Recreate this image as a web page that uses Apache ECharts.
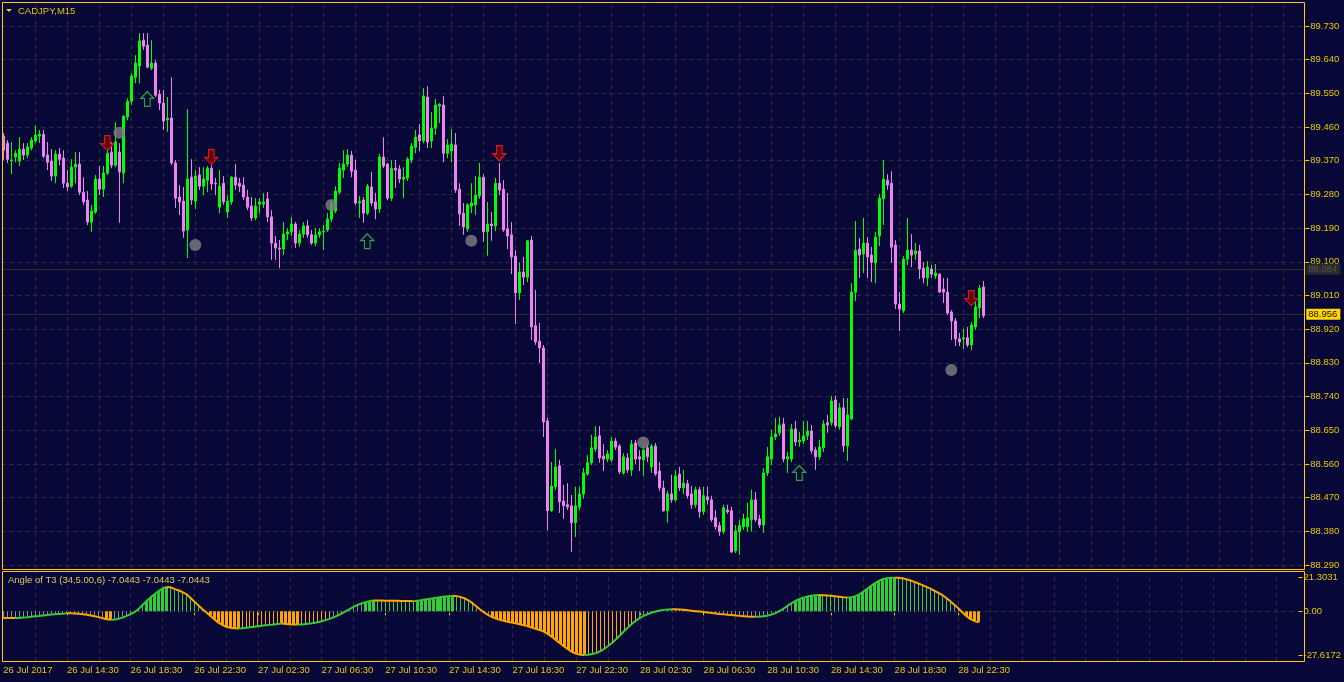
<!DOCTYPE html>
<html><head><meta charset="utf-8">
<script src="https://cdn.jsdelivr.net/npm/echarts@6/dist/echarts.min.js"></script>
<style>html,body{margin:0;padding:0;background:#070838;}#chart{width:1344px;height:682px;}</style>
</head><body><div id="chart"></div>
<script>
// ---------- DATA ----------
const symbolName = 'CADJPY,M15';
const indicatorTitle = 'Angle of T3 (34,5.00,6) -7.0443 -7.0443 -7.0443';
const tickLabels = ['26 Jul 2017','26 Jul 14:30','26 Jul 18:30','26 Jul 22:30','27 Jul 02:30','27 Jul 06:30','27 Jul 10:30','27 Jul 14:30','27 Jul 18:30','27 Jul 22:30','28 Jul 02:30','28 Jul 06:30','28 Jul 10:30','28 Jul 14:30','28 Jul 18:30','28 Jul 22:30'];
const priceTicks = [88.29,88.38,88.47,88.56,88.65,88.74,88.83,88.92,89.01,89.10,89.19,89.28,89.37,89.46,89.55,89.64,89.73];
const angleTicks = [21.3031, 0, -27.6172];
const levelLine = 89.084;
const bidPrice = 88.956;

const openPrices = [
89.436,89.417,89.370,89.380,89.369,89.401,89.385,89.404,89.423,89.436,
89.441,89.385,89.369,89.329,89.388,89.377,89.310,89.302,89.353,89.361,
89.286,89.265,89.206,89.233,89.321,89.294,89.337,89.393,89.358,89.393,
89.337,89.487,89.529,89.593,89.623,89.692,89.679,89.617,89.631,89.548,
89.524,89.479,89.484,89.364,89.273,89.262,89.185,89.326,89.262,89.332,
89.302,89.318,89.350,89.310,89.246,89.310,89.233,89.260,89.326,89.310,
89.305,89.273,89.249,89.217,89.254,89.254,89.268,89.220,89.150,89.137,
89.134,89.174,89.180,89.201,89.150,89.174,89.196,89.172,89.150,89.172,
89.180,89.185,89.214,89.236,89.286,89.345,89.361,89.385,89.345,89.257,
89.265,89.230,89.300,89.260,89.241,89.380,89.361,89.270,89.350,89.348,
89.321,89.324,89.372,89.406,89.439,89.423,89.540,89.423,89.457,89.516,
89.519,89.390,89.396,89.412,89.294,89.230,89.188,89.249,89.252,89.276,
89.326,89.180,89.201,89.196,89.310,89.294,89.188,89.172,89.115,89.017,
89.073,89.059,89.158,88.929,88.888,88.870,88.675,88.435,88.499,88.555,
88.461,88.451,88.448,88.403,88.445,88.480,88.533,88.563,88.600,88.635,
88.581,88.573,88.571,88.621,88.608,88.536,88.576,88.544,88.616,88.579,
88.571,88.603,88.552,88.608,88.541,88.496,88.435,88.480,88.464,88.533,
88.496,88.507,88.480,88.451,88.491,88.432,88.472,88.464,88.416,88.395,
88.379,88.437,88.435,88.328,88.379,88.392,88.392,88.411,88.464,88.413,
88.397,88.536,88.573,88.632,88.643,88.667,88.573,88.573,88.653,88.619,
88.621,88.635,88.648,88.597,88.579,88.603,88.670,88.670,88.731,88.659,
88.710,88.608,88.680,89.019,89.134,89.121,89.150,89.118,89.097,89.169,
89.268,89.318,89.310,89.145,88.987,88.969,89.107,89.131,89.121,89.129,
89.083,89.057,89.081,89.062,89.067,89.027,89.019,88.966,88.942,88.894,
88.894,88.897,88.878,88.926,88.977,89.033];
const closePrices = [
89.398,89.374,89.372,89.390,89.401,89.385,89.407,89.425,89.439,89.441,
89.382,89.366,89.329,89.388,89.374,89.310,89.300,89.353,89.361,89.286,
89.260,89.206,89.236,89.321,89.294,89.337,89.390,89.358,89.420,89.340,
89.489,89.529,89.596,89.631,89.690,89.676,89.620,89.631,89.545,89.524,
89.476,89.484,89.364,89.270,89.260,89.182,89.321,89.265,89.329,89.302,
89.321,89.350,89.308,89.308,89.302,89.260,89.262,89.326,89.305,89.302,
89.273,89.246,89.217,89.249,89.260,89.260,89.220,89.150,89.137,89.134,
89.174,89.180,89.201,89.150,89.174,89.196,89.172,89.150,89.172,89.180,
89.182,89.214,89.257,89.289,89.350,89.361,89.385,89.342,89.257,89.262,
89.230,89.302,89.257,89.241,89.380,89.356,89.270,89.350,89.345,89.321,
89.326,89.374,89.409,89.433,89.423,89.543,89.420,89.457,89.519,89.521,
89.390,89.412,89.415,89.292,89.228,89.193,89.252,89.257,89.278,89.326,
89.180,89.201,89.196,89.310,89.292,89.185,89.169,89.113,89.017,89.073,
89.059,89.156,88.926,88.886,88.870,88.672,88.435,88.501,88.552,88.459,
88.448,88.445,88.403,88.448,88.480,88.536,88.563,88.603,88.632,88.576,
88.573,88.587,88.621,88.605,88.539,88.579,88.544,88.613,88.573,88.573,
88.597,88.579,88.608,88.533,88.496,88.435,88.480,88.464,88.528,88.496,
88.509,88.475,88.451,88.491,88.432,88.475,88.464,88.411,88.392,88.379,
88.443,88.432,88.325,88.381,88.395,88.413,88.416,88.464,88.411,88.397,
88.536,88.579,88.632,88.640,88.664,88.573,88.579,88.653,88.619,88.624,
88.635,88.648,88.595,88.579,88.605,88.667,88.664,88.728,88.662,88.710,
88.608,88.691,89.019,89.131,89.118,89.150,89.113,89.099,89.166,89.270,
89.321,89.305,89.139,88.987,88.974,89.107,89.131,89.118,89.129,89.081,
89.057,89.086,89.067,89.070,89.019,89.019,88.963,88.942,88.894,88.886,
88.897,88.878,88.931,88.979,89.030,88.956];
const lowPrices = [
89.372,89.364,89.334,89.366,89.356,89.372,89.377,89.398,89.417,89.417,
89.377,89.345,89.316,89.310,89.358,89.297,89.289,89.297,89.310,89.278,
89.252,89.198,89.180,89.228,89.278,89.273,89.332,89.350,89.353,89.204,
89.310,89.478,89.519,89.577,89.577,89.666,89.617,89.612,89.540,89.505,
89.452,89.447,89.358,89.244,89.225,89.164,89.110,89.252,89.241,89.292,
89.278,89.286,89.292,89.278,89.230,89.252,89.217,89.252,89.292,89.286,
89.265,89.238,89.209,89.211,89.230,89.244,89.206,89.105,89.105,89.083,
89.118,89.158,89.169,89.137,89.140,89.164,89.164,89.145,89.142,89.164,
89.131,89.180,89.206,89.230,89.281,89.324,89.353,89.326,89.252,89.217,
89.204,89.225,89.249,89.214,89.230,89.350,89.265,89.262,89.297,89.310,
89.270,89.316,89.364,89.390,89.396,89.417,89.404,89.404,89.439,89.471,
89.366,89.377,89.366,89.284,89.196,89.172,89.180,89.230,89.225,89.268,
89.153,89.116,89.156,89.182,89.278,89.180,89.134,89.067,88.934,88.998,
89.038,89.046,88.891,88.878,88.830,88.632,88.383,88.432,88.491,88.429,
88.413,88.437,88.325,88.365,88.437,88.467,88.528,88.557,88.592,88.563,
88.541,88.565,88.565,88.597,88.533,88.531,88.536,88.528,88.560,88.541,
88.528,88.565,88.536,88.528,88.488,88.432,88.403,88.456,88.459,88.488,
88.480,88.467,88.440,88.443,88.416,88.424,88.451,88.405,88.384,88.368,
88.373,88.427,88.322,88.322,88.317,88.384,88.379,88.379,88.405,88.389,
88.376,88.528,88.557,88.624,88.635,88.565,88.536,88.565,88.608,88.606,
88.613,88.624,88.587,88.544,88.571,88.592,88.643,88.662,88.656,88.651,
88.592,88.568,88.677,88.995,89.057,89.070,89.057,89.046,89.043,89.142,
89.198,89.292,89.097,88.974,88.915,88.963,89.091,89.086,89.105,89.054,
89.043,89.035,89.057,89.054,89.017,88.990,88.958,88.891,88.875,88.875,
88.867,88.872,88.864,88.918,88.950,88.950];
const highPrices = [
89.444,89.425,89.420,89.398,89.433,89.417,89.417,89.433,89.465,89.452,
89.452,89.420,89.401,89.398,89.404,89.398,89.345,89.374,89.393,89.393,
89.326,89.289,89.252,89.332,89.356,89.356,89.406,89.420,89.473,89.417,
89.492,89.537,89.604,89.652,89.711,89.711,89.711,89.692,89.639,89.559,
89.559,89.540,89.593,89.372,89.305,89.300,89.508,89.374,89.345,89.353,
89.353,89.356,89.358,89.324,89.345,89.329,89.278,89.329,89.361,89.324,
89.326,89.292,89.273,89.270,89.270,89.284,89.286,89.238,89.169,89.158,
89.206,89.190,89.220,89.206,89.185,89.206,89.211,89.185,89.190,89.190,
89.198,89.230,89.265,89.302,89.364,89.398,89.401,89.396,89.372,89.276,
89.273,89.308,89.340,89.284,89.388,89.433,89.364,89.372,89.372,89.358,
89.353,89.380,89.417,89.452,89.468,89.564,89.569,89.500,89.535,89.524,
89.543,89.428,89.455,89.444,89.310,89.257,89.257,89.310,89.329,89.364,
89.334,89.260,89.233,89.324,89.364,89.318,89.284,89.206,89.131,89.099,
89.113,89.158,89.169,89.025,88.937,88.878,88.683,88.565,88.600,88.571,
88.504,88.509,88.477,88.499,88.499,88.549,88.584,88.638,88.661,88.661,
88.613,88.597,88.632,88.629,88.613,88.589,88.589,88.624,88.624,88.597,
88.608,88.613,88.613,88.616,88.565,88.515,88.488,88.531,88.544,88.552,
88.544,88.517,88.501,88.499,88.499,88.499,88.499,88.475,88.437,88.405,
88.451,88.451,88.445,88.397,88.411,88.427,88.456,88.491,88.485,88.424,
88.549,88.605,88.651,88.683,88.686,88.683,88.592,88.667,88.675,88.646,
88.675,88.675,88.664,88.605,88.624,88.677,88.691,88.742,88.742,88.723,
88.736,88.736,89.043,89.209,89.164,89.217,89.166,89.140,89.180,89.281,
89.372,89.334,89.342,89.158,89.019,89.115,89.217,89.174,89.150,89.145,
89.099,89.102,89.091,89.094,89.070,89.057,89.057,88.971,88.950,88.910,
88.921,88.926,88.939,88.993,89.038,89.049];

// Angle of T3 indicator, one value per bar
const angleT3 = [
-4.3,-4.3,-4.3,-4.3,-4.2,
-4.0,-3.8,-3.5,-3.2,-3.0,-2.7,-2.4,-2.1,-1.9,-1.7,-1.5,-1.3,
-1.3,-1.4,-1.6,-1.9,-2.2,-2.6,-3.1,-3.7,-4.4,-5.0,-5.4,
-5.2,-4.7,-4.0,-2.9,-1.8,-0.5,1.5,4.0,6.5,8.8,10.8,12.8,14.4,15.4,
15.2,14.2,13.3,12.2,10.9,8.6,6.2,3.8,1.5,-0.6,-2.8,-5.0,-7.0,-8.6,-9.8,-10.4,-10.8,-10.9,
-10.7,-10.4,-10.1,-9.8,-9.5,-9.2,-8.9,-8.6,-8.3,-8.0,-7.8,
-8.0,-8.2,-8.3,-8.4,
-8.3,-8.1,-7.8,-7.4,-6.9,-6.3,-5.6,-4.8,-3.8,-2.7,-1.4,-0.1,1.4,2.8,4.0,5.0,5.8,6.4,6.8,
6.8,6.8,6.7,6.7,6.6,6.6,6.5,6.5,6.5,6.4,
6.6,7.0,7.4,7.8,8.2,8.6,9.0,9.3,9.6,9.8,
9.6,9.0,8.1,6.8,5.0,2.9,0.8,-1.0,-2.6,-3.8,-4.8,
-5.6,-6.2,-6.8,-7.3,-7.8,-8.3,-8.9,-9.6,-10.4,-11.3,-12.1,-13.0,-14.6,-16.4,-18.4,-20.4,-22.4,-24.2,-25.8,-26.9,-27.5,-27.6172,
-27.5,-27.1,-26.4,-25.3,-23.8,-22.0,-20.0,-17.7,-15.2,-12.6,-10.2,-7.9,-5.9,-4.2,-2.8,-1.7,-0.8,-0.1,0.5,0.9,1.2,1.3,
1.3,1.2,1.0,0.7,0.4,0.1,-0.2,-0.5,-0.8,-1.1,-1.4,-1.7,-1.9,-2.2,-2.4,-2.7,-2.9,-3.1,-3.3,-3.4,-3.5,
-3.4,-3.2,-2.8,-2.1,-1.2,0.1,1.6,3.3,5.0,6.5,7.7,8.6,9.3,9.8,10.1,10.3,
10.2,10.0,9.8,9.5,9.2,8.9,8.7,
8.8,9.4,10.6,12.2,14.0,15.9,17.7,19.2,20.3,20.9,21.2,21.3031,
21.2,20.9,20.3,19.5,18.6,17.6,16.6,15.5,14.3,13.0,11.7,10.3,8.4,6.3,4.1,1.9,-0.6,-3.0,-4.8,-6.1,-7.0443];
// histogram buffer membership (runs): n neutral, G strong up, g weak up, O strong down, o weak down
const histRuns = [['n',26],['O',2],['n',8],['G',6],['g',9],['n',1],['O',8],['o',10],['O',5],['o',8],['n',8],['G',3],['g',10],['G',10],['g',5],['n',4],['O',24],['o',13],['n',39],['G',7],['g',7],['G',12],['g',14],['n',3],['O',4]];

// signal markers: [bar index, price]
const downArrows = [[26,89.417],[52,89.380],[124,89.390],[242,89.003]];
const upArrows = [[36,89.535],[91,89.155],[199,88.536]];
const dots = [[29,89.445],[48,89.145],[82,89.252],[117,89.156],[160,88.617],[237,88.811]];

// ---------- BUILD ----------
const shiftBars = 80;
const N = openPrices.length + shiftBars;
const barTimes = [];
const t0 = Date.UTC(2017,6,26,10,30);
const MON = ['Jan','Feb','Mar','Apr','May','Jun','Jul','Aug','Sep','Oct','Nov','Dec'];
for (let i = 0; i < N; i++) {
  const d = new Date(t0 + i*15*60000);
  barTimes.push(d.getUTCDate()+' '+MON[d.getUTCMonth()]+' '+String(d.getUTCHours()).padStart(2,'0')+':'+String(d.getUTCMinutes()).padStart(2,'0'));
}
const candleData = openPrices.map((o,i)=>[o, closePrices[i], lowPrices[i], highPrices[i]]);
const states = [];
histRuns.forEach(([s,c])=>{ for (let k=0;k<c;k++) states.push(s); });
const histData = angleT3.map((v,i)=>[i,v]);
const nA = angleT3.length;
const upLine = angleT3.map((v,i)=>((i>0&&v>angleT3[i-1])||(i<nA-1&&angleT3[i+1]>v))?v:null);
const dnLine = angleT3.map((v,i)=>((i>0&&v<=angleT3[i-1])||(i<nA-1&&angleT3[i+1]<=v))?v:null);
const vGrid = [];
for (let k = 8; k < N; k += 8) vGrid.push({xAxis: k});

const FONT = '"Liberation Sans", Arial, sans-serif';
const FS = 9.5;
const GOLD = '#FFCC00';
const TXT = '#E8C800';
const GRIDC = '#2e2e36';
const BG = '#070838';
const showTick = (idx)=> idx % 16 === 0 && idx/16 < tickLabels.length;

const chart = echarts.init(document.getElementById('chart'), null, {renderer:'canvas'});
const option = {
  backgroundColor: BG,
  animation: false,
  grid: [
    {left: 1.3, right: 38.7, top: 3, height: 566},
    {left: 1.3, right: 38.7, top: 572, height: 89}
  ],
  xAxis: [
    {type:'category', gridIndex:0, data: barTimes, boundaryGap:true, show:false},
    {type:'category', gridIndex:1, data: barTimes, boundaryGap:true,
     axisLine:{show:false},
     axisTick:{show:true, alignWithLabel:true, interval: showTick, length:4, lineStyle:{color:GOLD}},
     axisLabel:{interval: showTick, formatter:(v,idx)=>tickLabels[idx/16]||'', align:'left', color:TXT, fontSize:FS, fontFamily:FONT, margin:4},
     splitLine:{show:false}}
  ],
  yAxis: [
    {type:'value', gridIndex:0, position:'right', min:88.2793, max:89.7914, scale:true,
     axisLine:{show:false},
     axisTick:{show:true, length:4, customValues: priceTicks, lineStyle:{color:GOLD}},
     axisLabel:{customValues: priceTicks, formatter:v=>v.toFixed(3), color:TXT, fontSize:FS, fontFamily:FONT, margin:5},
     splitLine:{show:false}},
    {type:'value', gridIndex:1, position:'right', min:-31.46, max:24.87, scale:true,
     axisLine:{show:false},
     axisTick:{show:true, length:4, customValues: angleTicks, lineStyle:{color:GOLD}},
     axisLabel:{customValues: angleTicks, formatter:v=> v===0 ? '0.00' : v.toFixed(4), color:TXT, fontSize:FS, fontFamily:FONT, margin:5},
     splitLine:{show:false}}
  ],
  series: [
    {type:'line', xAxisIndex:0, yAxisIndex:0, data:[], silent:true,
     markLine:{z:1, silent:true, symbol:['none','none'], label:{show:false}, animation:false,
       lineStyle:{color:GRIDC, type:[4,4], width:1},
       data: vGrid.concat(priceTicks.map(p=>({yAxis:p})))}},
    {type:'line', xAxisIndex:1, yAxisIndex:1, data:[], silent:true,
     markLine:{z:1, silent:true, symbol:['none','none'], label:{show:false}, animation:false,
       lineStyle:{color:GRIDC, type:[4,4], width:1},
       data: vGrid.concat([{yAxis:0}])}},
    {type:'candlestick', xAxisIndex:0, yAxisIndex:0, data:candleData, barWidth:2, z:3,
     itemStyle:{color:'#00FF00', color0:'#EE82EE', borderColor:'#00FF00', borderColor0:'#EE82EE', borderWidth:1},
     markLine:{z:2, silent:true, symbol:['none','none'], animation:false,
       data:[
         {yAxis: levelLine, lineStyle:{color:'#2a2a2a', type:'solid', width:1},
          label:{show:true, position:'end', distance:1, formatter:()=>levelLine.toFixed(3), color:'#555555', backgroundColor:'#2a2a2a', padding:[1,3,0,2], fontSize:FS, fontFamily:FONT}},
         {yAxis: bidPrice, lineStyle:{color:'#2a2a2a', type:'solid', width:1},
          label:{show:true, position:'end', distance:1, formatter:()=>bidPrice.toFixed(3), color:'#111111', backgroundColor:'#FFD700', padding:[1,3,0,2], fontSize:FS, fontFamily:FONT}}
       ]}},
    {type:'scatter', xAxisIndex:0, yAxisIndex:0, data:dots, symbol:'circle', symbolSize:12, z:4, silent:true,
     itemStyle:{color:'#808080'}},
    {type:'scatter', xAxisIndex:0, yAxisIndex:0, data:downArrows, z:4, silent:true,
     symbol:'path://M4,0L10,0L10,8L14,8L7,15L0,8L4,8Z', symbolSize:[13,15],
     itemStyle:{color:'#7a0000', borderColor:'#ff2020', borderWidth:1.2}},
    {type:'scatter', xAxisIndex:0, yAxisIndex:0, data:upArrows, z:4, silent:true,
     symbol:'path://M7,0L14,7L10,7L10,15L4,15L4,7L0,7Z', symbolSize:[13,15],
     itemStyle:{color:'rgba(0,0,0,0)', borderColor:'#2ecc40', borderWidth:1.2}},
    {type:'custom', xAxisIndex:1, yAxisIndex:1, data:histData, z:2, silent:true,
     renderItem:(params, api)=>{
       const i = api.value(0), v = api.value(1), s = states[i];
       const p0 = api.coord([i,0]), p1 = api.coord([i,v]);
       const thick = (s==='G'||s==='O');
       const w = thick ? 3 : 1;
       const color = (s==='G'||s==='g') ? '#32CD32' : (s==='O'||s==='o') ? '#FFA500' : '#8a8a8a';
       const x = Math.round(p0[0]-w/2);
       const y = Math.min(p0[1],p1[1]);
       return {type:'rect', shape:{x:x, y:y, width:w, height:Math.max(1,Math.abs(p1[1]-p0[1]))}, style:{fill:color}};
     }},
    {type:'line', xAxisIndex:1, yAxisIndex:1, data:upLine, showSymbol:false, connectNulls:false, z:3, silent:true,
     lineStyle:{color:'#32CD32', width:2}},
    {type:'line', xAxisIndex:1, yAxisIndex:1, data:dnLine, showSymbol:false, connectNulls:false, z:3, silent:true,
     lineStyle:{color:'#FFA500', width:2}}
  ],
  graphic: [
    {type:'rect', z:100, silent:true, shape:{x:2.5, y:2.5, width:1302, height:567}, style:{fill:'transparent', stroke:GOLD, lineWidth:1}},
    {type:'rect', z:100, silent:true, shape:{x:2.5, y:571.5, width:1302, height:90}, style:{fill:'transparent', stroke:GOLD, lineWidth:1}},
    {type:'polygon', z:100, silent:true, shape:{points:[[6,9],[12,9],[9,12]]}, style:{fill:GOLD}},
    {type:'text', z:100, silent:true, x:18, y:11, style:{text:symbolName, fill:TXT, font:FS+'px '+FONT, verticalAlign:'middle'}},
    {type:'text', z:100, silent:true, x:8, y:580.5, style:{text:indicatorTitle, fill:'#E0C860', font:FS+'px '+FONT, verticalAlign:'middle'}}
  ]
};
chart.setOption(option);
</script>
</body></html>
